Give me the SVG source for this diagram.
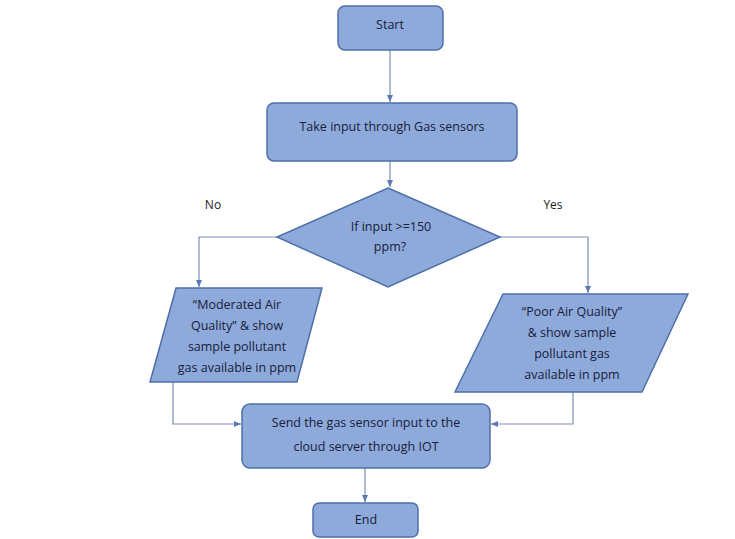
<svg xmlns="http://www.w3.org/2000/svg" width="735" height="539" viewBox="0 0 735 539">
<style>
.shape{fill:#8eaadb;stroke:#4f6fa8;stroke-width:1.5}
.t{font-family:"Open Sans","Liberation Sans",sans-serif;font-size:12.5px;font-weight:500;fill:#18203a;text-anchor:middle}
.lbl{font-family:"Open Sans","Liberation Sans",sans-serif;font-size:12px;fill:#222;text-anchor:middle}
.c{fill:none;stroke:#7d8fb3;stroke-width:1.2}
</style>
<defs>
<marker id="ah" markerWidth="8" markerHeight="8" refX="7" refY="4" orient="auto" markerUnits="userSpaceOnUse">
<path d="M0,1 L7,4 L0,7 Z" fill="#5a7ab5"/>
</marker>
</defs>
<rect width="735" height="539" fill="#ffffff"/>
<g id="connectors">
<path class="c" d="M390,50 V102" marker-end="url(#ah)"/>
<path class="c" d="M390,161 V187" marker-end="url(#ah)"/>
<path class="c" d="M277,237 H199 V287" marker-end="url(#ah)"/>
<path class="c" d="M500,237 H588 V293" marker-end="url(#ah)"/>
<path class="c" d="M173,382 V424 H241" marker-end="url(#ah)"/>
<path class="c" d="M573,392 V424 H491" marker-end="url(#ah)"/>
<path class="c" d="M365,468 V502" marker-end="url(#ah)"/>
</g>
<g id="start">
<rect class="shape" x="338" y="6" width="105" height="44" rx="7"/>
<text class="t" x="390" y="29">Start</text>
</g>
<g id="input">
<rect class="shape" x="267" y="103" width="250" height="58" rx="7"/>
<text class="t" x="392" y="131">Take input through Gas sensors</text>
</g>
<g id="decision">
<polygon class="shape" points="388,188 500,237 388,287 277,237"/>
<text class="t" x="391" y="231">If input &gt;=150</text>
<text class="t" x="390" y="251">ppm?</text>
</g>
<g id="label-no"><text class="lbl" x="213" y="209">No</text></g>
<g id="label-yes"><text class="lbl" x="553" y="209">Yes</text></g>
<g id="moderate">
<polygon class="shape" points="176,288 322,288 297,382 150,382"/>
<text class="t" x="237" y="309">“Moderated Air</text>
<text class="t" x="237" y="330">Quality” &amp; show</text>
<text class="t" x="237" y="351">sample pollutant</text>
<text class="t" x="237" y="372">gas available in ppm</text>
</g>
<g id="poor">
<polygon class="shape" points="503,294 688,294 642,392 455,392"/>
<text class="t" x="572" y="316">“Poor Air Quality”</text>
<text class="t" x="572" y="337">&amp; show sample</text>
<text class="t" x="572" y="358">pollutant gas</text>
<text class="t" x="572" y="379">available in ppm</text>
</g>
<g id="send">
<rect class="shape" x="242" y="404" width="248" height="64" rx="8"/>
<text class="t" x="366" y="427">Send the gas sensor input to the</text>
<text class="t" x="366" y="451">cloud server through IOT</text>
</g>
<g id="end">
<rect class="shape" x="313" y="503" width="105" height="34" rx="6"/>
<text class="t" x="366" y="524">End</text>
</g>
</svg>
